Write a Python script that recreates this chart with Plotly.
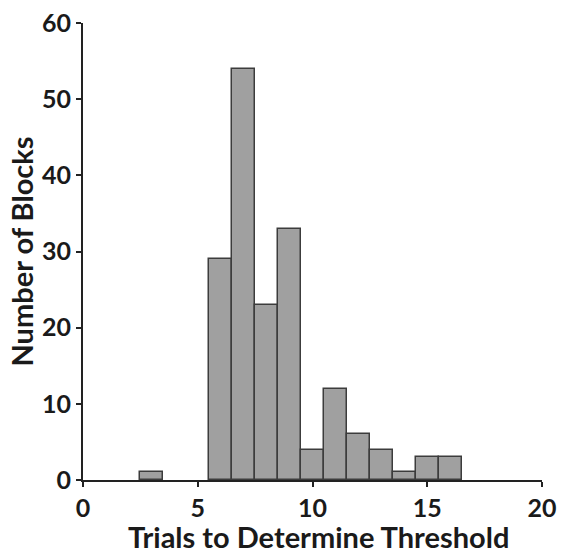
import plotly.graph_objects as go

# Histogram counts per number of trials (bin width 1, centred on each integer)
trials = [3, 6, 7, 8, 9, 10, 11, 12, 13, 14, 15, 16]
blocks = [1, 29, 54, 23, 33, 4, 12, 6, 4, 1, 3, 3]

x_ticks = [0, 5, 10, 15, 20]
y_ticks = [0, 10, 20, 30, 40, 50, 60]

FONT = "Lato"
AXIS_COLOR = "#222222"
TEXT_COLOR = "#1a1a1a"

fig = go.Figure(
    go.Bar(
        x=trials,
        y=blocks,
        width=1,
        marker=dict(color="#a0a0a0", line=dict(color="#3c3c3c", width=1.5)),
    )
)

fig.update_layout(
    width=561,
    height=557,
    margin=dict(l=83, r=19, t=23, b=77),
    plot_bgcolor="white",
    paper_bgcolor="white",
    showlegend=False,
    bargap=0,
    font=dict(family=FONT, color=TEXT_COLOR),
)

axis_style = dict(
    ticks="outside",
    ticklen=5,
    tickwidth=2,
    tickcolor=AXIS_COLOR,
    showline=True,
    linewidth=2,
    linecolor=AXIS_COLOR,
    showgrid=False,
    zeroline=False,
    automargin=False,
    tickfont=dict(family=FONT, size=25, weight="bold"),
)

fig.update_xaxes(range=[0, 20], tickvals=x_ticks, **axis_style)
fig.update_yaxes(range=[0, 60], tickvals=y_ticks, **axis_style)

title_font = dict(family=FONT, size=29, weight="bold", color=TEXT_COLOR)

# Axis titles as annotations so their placement can be tuned in pixels
fig.add_annotation(
    text="Trials to Determine Threshold",
    xref="paper", yref="paper",
    x=0.5, y=0,
    xshift=6, yshift=-37,
    xanchor="center", yanchor="top",
    showarrow=False,
    font=title_font,
)
fig.add_annotation(
    text="Number of Blocks",
    xref="paper", yref="paper",
    x=0, y=0.5,
    xshift=-62,
    xanchor="center", yanchor="middle",
    textangle=-90,
    showarrow=False,
    font=title_font,
)

fig.write_html("out.html")
